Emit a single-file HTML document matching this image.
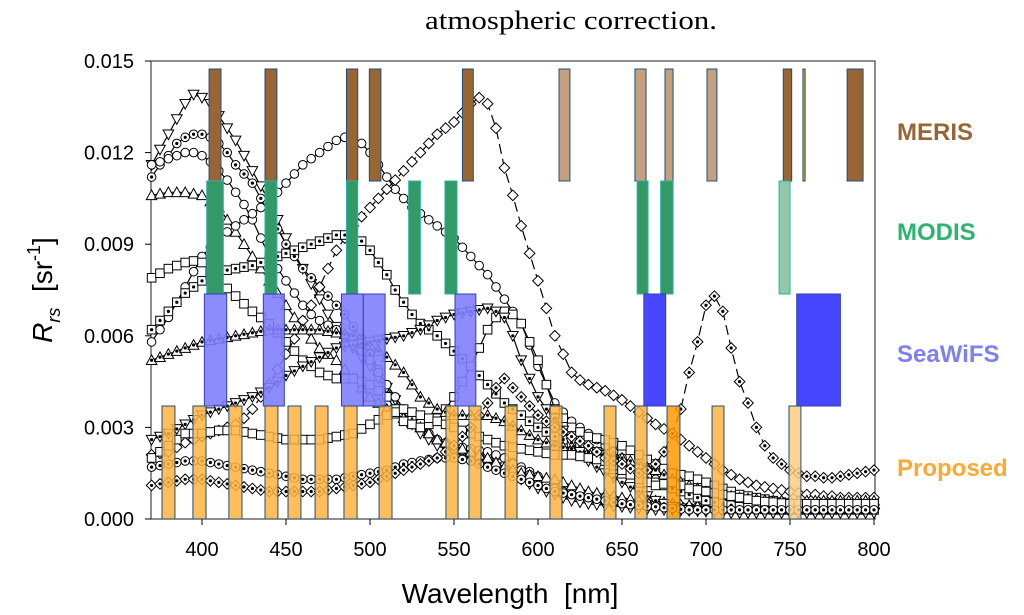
<!DOCTYPE html>
<html><head><meta charset="utf-8"><style>
html,body{margin:0;padding:0;background:#fff;width:1024px;height:615px;overflow:hidden}
svg{display:block}
</style></head><body>
<svg id="chart" width="1024" height="615" viewBox="0 0 1024 615" xmlns="http://www.w3.org/2000/svg">
<text x="425" y="29" font-family="Liberation Serif, serif" font-size="26" textLength="292" lengthAdjust="spacingAndGlyphs">atmospheric correction.</text>
<g id="axes"></g>
<g id="curves"></g>
<g id="bands"></g>
<g font-family="Liberation Sans, sans-serif" font-weight="bold" font-size="24">
<text x="897" y="140" fill="#996633">MERIS</text>
<text x="897" y="240" fill="#2db56e">MODIS</text>
<text x="897" y="362" fill="#7f7ff5">SeaWiFS</text>
<text x="897" y="476" fill="#ffa733">Proposed</text>
</g>
<text x="510" y="603" font-family="Liberation Sans, sans-serif" font-size="28" text-anchor="middle" xml:space="preserve">Wavelength  [nm]</text>
<text transform="translate(52,290) rotate(-90)" font-family="Liberation Sans, sans-serif" font-size="28" text-anchor="middle" xml:space="preserve"><tspan font-style="italic">R</tspan><tspan font-style="italic" font-size="18" dy="8">rs</tspan><tspan dy="-8">  [sr</tspan><tspan font-size="18" dy="-12">-1</tspan><tspan dy="12">]</tspan></text>
</svg>
<script>
const wl = [370,375,380,385,390,395,400,405,410,415,420,425,430,435,440,445,450,455,460,465,470,475,480,485,490,495,500,505,510,515,520,525,530,535,540,545,550,555,560,565,570,575,580,585,590,595,600,605,610,615,620,625,630,635,640,645,650,655,660,665,670,675,680,685,690,695,700,705,710,715,720,725,730,735,740,745,750,755,760,765,770,775,780,785,790,795,800];
const sA = [11.6,12.1,12.6,13.1,13.6,13.9,13.8,13.6,13.2,12.8, 12.4,11.9,11.4,10.9,10.4,9.8,9.2,8.7,8.2,7.7, 7.2,6.7,6.3,5.9,5.6,5.3,5.0,4.6,4.3,3.9, 3.5,3.1,2.8,2.6,2.4,2.3,2.2,2.1,2.0,1.9, 1.8,1.7,1.6,1.45,1.3,1.15,1.0,0.9,0.8,0.7, 0.6,0.55,0.5,0.47,0.45,0.42,0.4,0.37,0.35,0.32, 0.3,0.3,0.3,0.28,0.27,0.26,0.25,0.25,0.22,0.2, 0.2,0.2,0.2,0.2,0.2,0.2,0.2,0.2,0.2,0.2, 0.2,0.2,0.2,0.2,0.2,0.2,0.2];
const sB = [11.2,11.6,11.9,12.3,12.5,12.6,12.6,12.5,12.3,12.0, 11.6,11.3,11.0,10.5,10.0,9.5,9.0,8.6,8.2,7.9, 7.6,7.3,7.0,6.7,6.3,5.9,5.4,4.9,4.4,4.0, 3.6,3.3,3.0,2.8,2.6,2.45,2.3,2.25,2.2,2.15, 2.1,2.05,2.0,1.85,1.7,1.55,1.4,1.25,1.1,1.0, 0.9,0.8,0.7,0.65,0.6,0.55,0.5,0.47,0.45,0.42, 0.4,0.38,0.35,0.33,0.3,0.3,0.3,0.3,0.3,0.3, 0.3,0.3,0.3,0.3,0.3,0.3,0.3,0.3,0.3,0.3, 0.3,0.3,0.3,0.3,0.3,0.3,0.3];
const sC = [11.6,11.7,11.8,11.9,12.0,12.0,11.9,11.7,11.4,11.1, 10.7,10.3,9.8,9.2,8.6,8.2,7.8,7.4,7.0,6.7, 6.5,6.35,6.2,6.0,5.8,5.5,5.2,4.8,4.4,4.0, 3.6,3.3,3.0,2.8,2.6,2.5,2.4,2.35,2.3,2.25, 2.2,2.1,2.0,1.8,1.6,1.45,1.3,1.15,1.0,0.9, 0.8,0.75,0.7,0.65,0.6,0.6,0.6,0.55,0.5,0.47, 0.45,0.45,0.45,0.42,0.4,0.4,0.4,0.38,0.35,0.35, 0.35,0.35,0.35,0.35,0.35,0.35,0.35,0.35,0.35,0.35, 0.35,0.35,0.35,0.35,0.35,0.35,0.35];
const sD = [10.6,10.65,10.7,10.7,10.7,10.65,10.6,10.4,10.2,9.8, 9.4,9.0,8.6,8.2,7.8,7.4,7.0,6.6,6.3,5.9, 5.6,5.4,5.2,4.9,4.6,4.3,4.0,3.8,3.6,3.45, 3.3,3.15,3.0,2.8,2.6,2.5,2.4,2.3,2.2,2.1, 2.0,1.85,1.7,1.6,1.5,1.45,1.4,1.35,1.3,1.2, 1.1,1.0,0.9,0.85,0.8,0.75,0.7,0.65,0.6,0.6, 0.6,0.55,0.5,0.47,0.45,0.42,0.4,0.42,0.45,0.45, 0.45,0.47,0.5,0.5,0.5,0.5,0.5,0.5,0.5,0.5, 0.5,0.5,0.5,0.5,0.5,0.5,0.5];
const sE = [5.8,6.2,6.6,7.1,7.6,8.1,8.6,8.9,9.2,9.4, 9.6,9.8,10.0,10.2,10.4,10.7,11.0,11.3,11.6,11.8, 12.0,12.2,12.4,12.5,12.5,12.3,12.0,11.6,11.2,10.8, 10.5,10.2,10.0,9.8,9.6,9.4,9.2,8.9,8.6,8.3, 8.0,7.6,7.2,6.8,6.4,5.7,5.0,4.4,3.8,3.5, 3.2,3.0,2.8,2.6,2.4,2.2,2.0,1.8,1.6,1.45, 1.3,1.2,1.1,1.0,0.9,0.85,0.8,0.75,0.7,0.7, 0.7,0.65,0.6,0.6,0.6,0.57,0.55,0.52,0.5,0.5, 0.5,0.5,0.5,0.5,0.5,0.5,0.5];
const sF = [2.1,2.15,2.2,2.35,2.5,2.6,2.7,2.8,2.9,3.0, 3.1,3.3,3.6,4.0,4.4,4.9,5.4,5.9,6.5,7.0, 7.6,8.2,8.8,9.2,9.6,9.9,10.2,10.5,10.8,11.1, 11.4,11.7,12.0,12.3,12.6,12.8,13.0,13.3,13.6,13.8, 13.6,12.8,11.5,10.6,9.6,8.7,7.8,6.9,6.0,5.4, 4.8,4.55,4.4,4.3,4.2,4.05,3.9,3.7,3.5,3.3, 3.1,2.95,2.8,2.6,2.4,2.2,2.0,1.8,1.6,1.45, 1.3,1.2,1.1,1.05,1.0,0.95,0.9,0.85,0.8,0.8, 0.75,0.75,0.7,0.7,0.7,0.7,0.7];
const sG = [6.2,6.5,6.8,7.1,7.4,7.6,7.8,8.0,8.1,8.15, 8.2,8.25,8.3,8.4,8.5,8.6,8.7,8.8,8.9,9.0, 9.1,9.2,9.3,9.3,9.3,9.1,8.8,8.4,8.0,7.5, 7.1,6.7,6.4,6.2,6.0,5.75,5.5,5.25,5.0,4.7, 4.4,4.1,3.8,3.6,3.4,3.2,3.0,2.85,2.7,2.6, 2.5,2.4,2.3,2.2,2.1,1.95,1.8,1.65,1.5,1.35, 1.2,1.1,1.0,0.9,0.8,0.7,0.6,0.55,0.5,0.45, 0.4,0.37,0.35,0.32,0.3,0.3,0.3,0.3,0.3,0.3, 0.3,0.3,0.3,0.3,0.3,0.3,0.3];
const sH = [7.9,8.05,8.2,8.3,8.4,8.45,8.4,8.1,7.8,7.55, 7.3,7.05,6.8,6.6,6.4,6.1,5.8,5.5,5.2,5.0, 4.8,4.7,4.6,4.6,4.6,4.5,4.4,4.2,4.0,3.6, 3.2,3.1,3.0,3.1,3.3,3.6,4.0,4.5,5.0,5.6, 6.2,6.6,6.8,6.7,6.4,5.8,5.2,4.4,3.6,3.3, 3.0,2.85,2.7,2.65,2.6,2.5,2.4,2.25,2.1,1.95, 1.8,1.65,1.5,1.45,1.4,1.3,1.2,1.1,1.0,0.9, 0.8,0.75,0.7,0.65,0.6,0.55,0.5,0.5,0.5,0.5, 0.5,0.5,0.5,0.5,0.5,0.5,0.5];
const sI = [5.2,5.3,5.4,5.5,5.6,5.7,5.8,5.85,5.9,5.95, 6.0,6.05,6.1,6.15,6.2,6.2,6.2,6.2,6.2,6.2, 6.2,6.15,6.1,6.05,6.0,5.85,5.7,5.5,5.3,5.05, 4.8,4.4,4.0,3.8,3.6,3.5,3.4,3.4,3.4,3.4, 3.4,3.3,3.2,3.05,2.9,2.75,2.6,2.5,2.4,2.35, 2.3,2.25,2.2,2.15,2.1,2.05,2.0,1.9,1.8,1.7, 1.6,1.45,1.3,1.2,1.1,1.0,0.9,0.85,0.8,0.75, 0.7,0.67,0.65,0.62,0.6,0.6,0.6,0.6,0.6,0.6, 0.6,0.6,0.6,0.6,0.6,0.6,0.6];
const sJ = [2.6,2.7,2.8,2.95,3.1,3.25,3.4,3.5,3.6,3.7, 3.8,3.9,4.0,4.15,4.3,4.5,4.7,4.85,5.0,5.15, 5.3,5.45,5.6,5.65,5.7,5.75,5.8,5.85,5.9,5.95, 6.0,6.1,6.2,6.35,6.5,6.6,6.7,6.75,6.8,6.85, 6.9,6.8,6.6,6.0,5.2,4.6,4.0,3.6,3.3,2.9, 2.5,2.2,1.9,1.7,1.5,1.35,1.2,1.05,0.9,0.75, 0.6,0.5,0.4,0.35,0.3,0.27,0.25,0.22,0.2,0.2, 0.2,0.2,0.2,0.2,0.2,0.2,0.2,0.2,0.2,0.2, 0.2,0.2,0.2,0.2,0.2,0.2,0.2];
const sK = [2.0,2.2,2.4,2.6,2.8,2.8,2.8,2.85,2.9,2.9, 2.9,2.85,2.8,2.75,2.7,2.65,2.6,2.6,2.6,2.6, 2.6,2.65,2.7,2.75,2.8,2.95,3.1,3.25,3.4,3.5, 3.6,3.5,3.4,3.3,3.2,3.1,3.0,2.9,2.8,2.7, 2.6,2.5,2.4,2.35,2.3,2.25,2.2,2.15,2.1,2.1, 2.1,2.05,2.0,1.95,1.9,1.75,1.6,1.45,1.3,1.2, 1.1,1.15,1.2,1.1,1.0,0.95,0.9,0.85,0.8,0.75, 0.7,0.65,0.6,0.57,0.55,0.52,0.5,0.5,0.5,0.5, 0.5,0.5,0.5,0.5,0.5,0.5,0.5];
const sL = [1.7,1.75,1.8,1.85,1.9,1.9,1.9,1.85,1.8,1.75, 1.7,1.65,1.6,1.55,1.5,1.45,1.4,1.35,1.3,1.3, 1.3,1.3,1.3,1.35,1.4,1.45,1.5,1.55,1.6,1.7, 1.8,1.85,1.9,1.95,2.0,2.0,2.0,1.95,1.9,1.8, 1.7,1.6,1.5,1.4,1.3,1.2,1.1,1.0,0.9,0.85, 0.8,0.75,0.7,0.65,0.6,0.55,0.5,0.47,0.45,0.42, 0.4,0.37,0.35,0.32,0.3,0.3,0.3,0.3,0.3,0.3, 0.3,0.3,0.3,0.3,0.3,0.3,0.3,0.3,0.3,0.3, 0.3,0.3,0.3,0.3,0.3,0.3,0.3];
const sM = [1.1,1.15,1.2,1.25,1.3,1.3,1.3,1.25,1.2,1.15, 1.1,1.05,1.0,0.95,0.9,0.9,0.9,0.9,0.9,0.9, 0.9,0.95,1.0,1.05,1.1,1.15,1.2,1.3,1.4,1.5, 1.6,1.7,1.8,1.9,2.0,2.2,2.4,2.7,3.0,3.4, 3.8,4.3,4.6,4.3,4.0,3.7,3.4,3.2,3.0,2.85, 2.7,2.55,2.4,2.2,2.0,1.9,1.8,1.65,1.5,1.6, 1.8,2.2,2.8,3.6,4.8,5.8,7.0,7.3,6.8,5.6, 4.5,3.8,3.0,2.4,2.0,1.8,1.6,1.5,1.4,1.4, 1.35,1.35,1.4,1.45,1.5,1.55,1.6];
const merisBands = [[404.2,411.3],[437.5,444.6],[486,492.7],[499.6,506.5],[555,561.5],[612.5,619],[657.7,664.3],[675.6,680.4],[700.6,706.5],[746,751],[757.7,759],[784,793.5]];
const merisColors = ["#996633","#996633","#996633","#996633","#996633","#c4a07e","#c4a07e","#c4a07e","#c4a07e","#996633","#e8a818","#996633"];
const modisBands = [[402.8,412.7],[437.5,444.6],[486,492.7],[523,530],[544.6,551.8],[659,665.5],[673,680.4],[743.5,750]];
const modisColors = ["#339966","#339966","#339966","#339966","#339966","#339966","#339966","#8fc9a8"];
const seawifsBands = [[401.4,414.7],[436.5,449],[483,496],[496,509],[550.6,563],[663,676],[754,780]];
const seawifsColors = ["#8080ff","#8080ff","#8080ff","#8080ff","#8080ff","#3333ff","#3333ff"];
const proposedBands = [[376.2,383.9],[394.6,402.4],[416,423.8],[437.5,445.2],[451.2,458.9],[467.3,475],[484.5,492.3],[505.4,513.1],[545.2,552.4],[558.9,566.1],[580.4,587.5],[607.1,614.3],[639.3,646.4],[657.7,664.9],[676.8,684.5],[703.6,710.7],[749.4,756.5]];
const proposedColors = ["#ffb340","#ffb340","#ffb340","#ffb340","#ffb340","#ffb340","#ffb340","#ffb340","#ffb340","#ffb340","#ffb340","#ffb340","#ffb340","#ffb340","#ff9900","#ffb340","#ffcc80"];
const xTicks = [400,450,500,550,600,650,700,750,800];
const yTicks = [0,3,6,9,12,15];
const yTickLabels = ["0.000","0.003","0.006","0.009","0.012","0.015"];

const NS="http://www.w3.org/2000/svg";
const X0=151, X1=875, Y0=519, Y1=61;
function xs(l){return 202+(l-400)*1.68;}
function ys(v){return Y0-(v/15)*(Y0-Y1);}
function mk(tag,attrs,parent){const e=document.createElementNS(NS,tag);for(const k in attrs)e.setAttribute(k,attrs[k]);parent.appendChild(e);return e;}
const axes=document.getElementById('axes');
const fr=mk('rect',{x:X0,y:Y1,width:X1-X0,height:Y0-Y1,fill:'none',stroke:'#444','stroke-width':1.2},axes);


xTicks.forEach(t=>{
  const ln=mk('line',{x1:xs(t),x2:xs(t),y1:Y0,y2:Y0+6,stroke:'#000'},axes);
  
  
  const tx=mk('text',{x:xs(t),y:556,'font-family':'Liberation Sans, sans-serif','font-size':20,'text-anchor':'middle'},axes);
  tx.textContent=t;
  
  
});
yTicks.forEach((t,i)=>{
  const ln=mk('line',{x1:X0-6,x2:X0,y1:ys(t),y2:ys(t),stroke:'#000'},axes);
  
  
  const tx=mk('text',{x:134,y:ys(t)+7,'font-family':'Liberation Sans, sans-serif','font-size':20,'text-anchor':'end'},axes);
  tx.textContent=yTickLabels[i];
  
  
});
const curves=document.getElementById('curves');
const series=[[sA,'tridown',false,false],[sB,'circle',true,false],[sC,'circle',false,false],[sD,'triup',false,false],[sE,'circle',false,false],[sF,'diamond',false,true],[sG,'square',true,false],[sH,'square',false,false],[sI,'triup',true,false],[sJ,'tridown',true,false],[sK,'square',false,false],[sL,'circle',true,false],[sM,'diamond',true,true]];
function marker(g,type,x,y,dot){
  const r=4.3;let e;
  if(type==='circle')e=mk('circle',{cx:x,cy:y,r:r},g);
  else if(type==='square')e=mk('rect',{x:x-r,y:y-r,width:2*r,height:2*r},g);
  else if(type==='diamond')e=mk('polygon',{points:`${x},${y-r-1} ${x+r+1},${y} ${x},${y+r+1} ${x-r-1},${y}`},g);
  else if(type==='triup')e=mk('polygon',{points:`${x},${y-r-1} ${x+r+1},${y+r} ${x-r-1},${y+r}`},g);
  else e=mk('polygon',{points:`${x},${y+r+1} ${x+r+1},${y-r} ${x-r-1},${y-r}`},g);
  e.setAttribute('fill','#fff');e.setAttribute('stroke','#000');e.setAttribute('stroke-width','1');
  if(dot)mk('circle',{cx:x,cy:y,r:1.6,fill:'#000'},g);
}
series.forEach((s,i)=>{
  const g=mk('g',{},curves);
  
  
  const n=Math.min(wl.length,s[0].length);
  const pts=[];
  for(let j=0;j<n;j++)pts.push(xs(wl[j])+','+ys(s[0][j]));
  const pl=mk('polyline',{points:pts.join(' '),fill:'none',stroke:'#000','stroke-width':1.2,'stroke-dasharray':s[3]?'10,5':'none'},g);
  
  
  for(let j=0;j<n;j++)marker(g,s[1],xs(wl[j]),ys(s[0][j]),s[2]);
});
const bands=document.getElementById('bands');
function drawBands(arr,cols,yTop,yBot,op,name,strokeC){
  arr.forEach((b,i)=>{
    const r=mk('rect',{x:xs(b[0]),y:yTop,width:xs(b[1])-xs(b[0]),height:yBot-yTop,fill:cols[i],'fill-opacity':op,stroke:strokeC,'stroke-width':1},bands);
    
    
  });
}
drawBands(merisBands,merisColors,69,181,1,'meris','#1f4e79');
drawBands(modisBands,modisColors,181,294,1,'modis','#2bb3a8');
drawBands(seawifsBands,seawifsColors,294,406,0.9,'seawifs','#3040b0');
drawBands(proposedBands,proposedColors,406,519,0.85,'proposed','#1f4e79');
</script>
</body></html>
